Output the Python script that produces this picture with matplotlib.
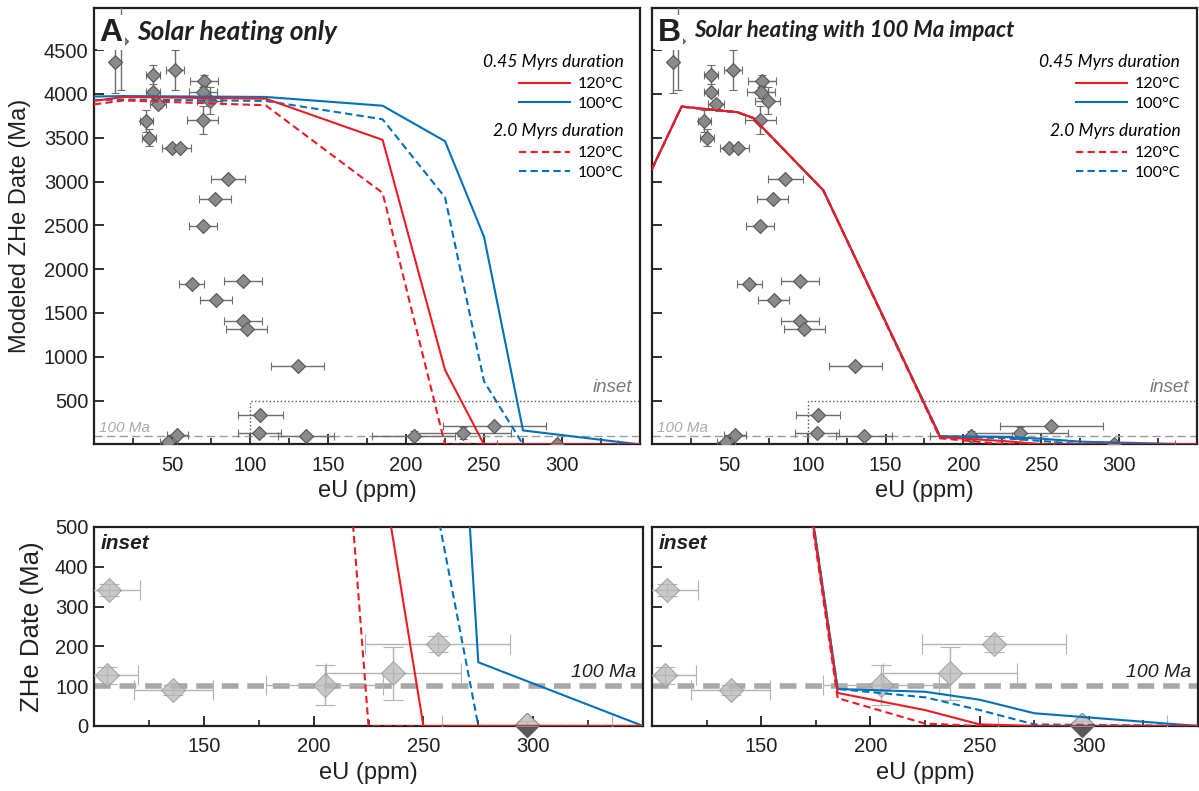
import matplotlib
matplotlib.use("Agg")
import matplotlib.pyplot as plt
from matplotlib.patches import Rectangle
from matplotlib.lines import Line2D
from matplotlib.legend import Legend

plt.rcParams['font.family'] = ['Liberation Sans', 'DejaVu Sans']

# measured single-grain data (eU in ppm, ZHe date in Ma)
eu = [13.3, 17, 37.9, 52, 37.9, 41.1, 70.7, 70, 74.3, 69.6, 33.6, 35.3, 49.7, 55,
      85.7, 77.5, 69.6, 95.3, 62.6, 78.2, 95.3, 97.9, 130.6,
      106.7, 106, 53.5, 47.5, 136, 205, 236.3, 256.5, 297]
eu_err = [1, 1, 4.5, 6, 4.7, 5, 8.9, 9, 8, 10, 4.3, 4.5, 6, 7,
          11, 10, 9, 12.2, 7.8, 10, 12.2, 13, 17,
          14.3, 14, 7, 5.5, 18, 26.5, 30.7, 33, 38.7]
zhe_date = [4359, 4600, 4219, 4272, 4017, 3885, 4151, 4017, 3923, 3703, 3687, 3498, 3384, 3384,
            3031, 2795, 2491, 1865, 1828, 1653, 1406, 1312, 897,
            341, 127, 110, 25, 91, 102, 132, 205, 2]
date_err = [345, 560, 109, 229, 40, 45, 65, 60, 156, 156, 124, 96, 25, 25,
            30, 30, 30, 30, 30, 30, 30, 30, 30,
            15, 21, 12, 10, 12, 50, 66, 20, 10]

# modeled dates, panel A (solar heating only)
eu_grid_a = [0, 19, 110, 185, 225, 250, 275, 350]
a_045_120 = [3920, 3965, 3945, 3475, 850, 0, 0, 0]
a_045_100 = [3970, 3975, 3965, 3865, 3460, 2370, 160, 0]
a_20_120 = [3880, 3925, 3870, 2870, 0, 0, 0, 0]
a_20_100 = [3930, 3935, 3920, 3710, 2820, 720, 0, 0]

# modeled dates, panel B (solar heating with 100 Ma impact)
eu_grid_b = [0, 19, 55, 65, 110, 185, 225, 250, 275, 350]
b_045_120 = [3145, 3855, 3790, 3725, 2900, 83, 40, 4, 0, 0]
b_045_100 = [3145, 3855, 3790, 3725, 2900, 93, 86, 66, 32, 0]
b_20_120 = [3145, 3855, 3790, 3725, 2900, 70, 6, 0, 0, 0]
b_20_100 = [3145, 3855, 3790, 3725, 2900, 93, 72, 40, 4, 0]

impact_age = 100
main_xlim = (0, 350)
main_ylim = (0, 4980)
inset_xlim = (100, 350)
inset_ylim = (0, 500)

RED = '#ed1c24'
BLUE = '#0072bc'
DARK = '#231f20'
TXT = '#231f20'
TITLE_FONT = ['Lato', 'DejaVu Sans']

fig = plt.figure(figsize=(11.99, 7.91), dpi=100)
axA = fig.add_axes([0.0784, 0.4381, 0.4554, 0.5518])
axB = fig.add_axes([0.5438, 0.4381, 0.4545, 0.5518])
axAi = fig.add_axes([0.0784, 0.0822, 0.4579, 0.2516])
axBi = fig.add_axes([0.5438, 0.0822, 0.4554, 0.2516])


def draw_models(ax, grid, s120, s100, d120, d100):
    ax.plot(grid, s100, color=BLUE, lw=1.5, zorder=4)
    ax.plot(grid, d100, color=BLUE, lw=1.5, dashes=(3.5, 2), zorder=4)
    ax.plot(grid, d120, color=RED, lw=1.5, dashes=(3.5, 2), zorder=5)
    ax.plot(grid, s120, color=RED, lw=1.5, zorder=5)


def style(ax, xt, xminor, yt, ylabels=True):
    for sp in ax.spines.values():
        sp.set_linewidth(1.6)
        sp.set_color(DARK)
    ax.set_xticks(xt)
    ax.set_xticks(xminor, minor=True)
    ax.set_yticks(yt)
    ax.tick_params(direction='in', length=7, width=1.3, labelsize=14.5,
                   colors=DARK, labelcolor=TXT, pad=4)
    ax.tick_params(axis='x', pad=8)
    ax.tick_params(which='minor', direction='in', length=4, width=1.2, colors=DARK)
    if not ylabels:
        ax.tick_params(labelleft=False)
    ax.set_xlabel('eU (ppm)', fontsize=17, color=TXT, labelpad=4)


for ax, letter, title, tsize, models in [
        (axA, 'A', 'Solar heating only', 19,
         (eu_grid_a, a_045_120, a_045_100, a_20_120, a_20_100)),
        (axB, 'B', 'Solar heating with 100 Ma impact', 16,
         (eu_grid_b, b_045_120, b_045_100, b_20_120, b_20_100))]:
    ax.errorbar(eu, zhe_date, xerr=eu_err, yerr=date_err, fmt='D', ms=7.5,
                mfc='#8a8a8a', mec='#555555', mew=0.8, ecolor='#6e6e6e',
                elinewidth=1, capsize=3, capthick=1, zorder=3)
    draw_models(ax, *models)
    ax.axhline(impact_age, color='#9a9a9a', lw=1, dashes=(6, 3), zorder=2)
    ax.add_patch(Rectangle((inset_xlim[0], inset_ylim[0]),
                           inset_xlim[1] - inset_xlim[0], inset_ylim[1] - inset_ylim[0],
                           fill=False, ec='#555555', lw=1, ls=':', zorder=2))
    ax.text(3, impact_age + 40, '100 Ma', fontsize=11, style='italic', color='#ababab')
    ax.text(0.985, (inset_ylim[1] + 50) / main_ylim[1], 'inset', transform=ax.transAxes,
            ha='right', va='bottom', fontsize=13.5, style='italic', color='#7a7a7a')
    ax.text(0.01, 0.978, letter, transform=ax.transAxes, ha='left', va='top',
            fontsize=23, fontweight='bold', color=TXT, zorder=10,
            bbox=dict(fc='white', ec='none', pad=2))
    ax.text(0.078, 0.972, title, transform=ax.transAxes, ha='left', va='top',
            fontsize=tsize, fontweight='bold', style='italic', color=TXT, zorder=10,
            family=TITLE_FONT, bbox=dict(fc='white', ec='none', pad=3))
    ax.set_xlim(*main_xlim)
    ax.set_ylim(*main_ylim)
    style(ax, [50, 100, 150, 200, 250, 300], list(range(25, 350, 50)),
          list(range(500, 4501, 500)), ylabels=(ax is axA))

    # legend blocks
    h1 = [Line2D([], [], color=RED, lw=1.5), Line2D([], [], color=BLUE, lw=1.5)]
    h2 = [Line2D([], [], color=RED, lw=1.5, dashes=(3.5, 2)),
          Line2D([], [], color=BLUE, lw=1.5, dashes=(3.5, 2))]
    for handles, head, ypos in [(h1, '0.45 Myrs duration', 0.92),
                                (h2, '2.0 Myrs duration', 0.762)]:
        leg = Legend(ax, handles, ['120°C', '100°C'], title=head, loc='upper right',
                     bbox_to_anchor=(0.99, ypos), frameon=False, alignment='right',
                     handlelength=3.2, handletextpad=0.5,
                     labelspacing=0.35, borderpad=0.2,
                     prop={'family': TITLE_FONT, 'size': 11.5},
                     title_fontproperties={'family': TITLE_FONT, 'size': 12.5,
                                           'style': 'italic'})
        leg._legend_box.sep = 5
        ax.add_artist(leg)

axA.set_ylabel('Modeled ZHe Date (Ma)', fontsize=17, color=TXT, labelpad=9)

for ax, models in [(axAi, (eu_grid_a, a_045_120, a_045_100, a_20_120, a_20_100)),
                   (axBi, (eu_grid_b, b_045_120, b_045_100, b_20_120, b_20_100))]:
    ax.axhline(impact_age, color='#a8a8a8', lw=4, dashes=(3, 1.6), zorder=2)
    low = [i for i, d in enumerate(zhe_date) if d < 10]
    ax.plot([eu[i] for i in low], [zhe_date[i] for i in low], 'D', ms=12,
            mfc='#595959', mec='#595959', clip_on=False, zorder=1)
    ax.plot([eu[i] for i in low], [zhe_date[i] for i in low], 'D', ms=12,
            mfc='white', mec='none', zorder=2.5)
    ax.errorbar(eu, zhe_date, xerr=eu_err, yerr=date_err, fmt='D', ms=12,
                mfc=(0.72, 0.72, 0.72, 0.75), mec=(0.6, 0.6, 0.6, 0.8), mew=0.8,
                ecolor='#b3b3b3', elinewidth=1, capsize=7, capthick=1, zorder=3)
    draw_models(ax, *models)
    ax.text(0.012, 0.965, 'inset', transform=ax.transAxes, ha='left', va='top',
            fontsize=15, fontweight='bold', style='italic', color=TXT)
    ax.text(0.988, impact_age + 12, '100 Ma', transform=ax.get_yaxis_transform(),
            ha='right', va='bottom', fontsize=14, style='italic', color=TXT)
    ax.set_xlim(*inset_xlim)
    ax.set_ylim(*inset_ylim)
    style(ax, [150, 200, 250, 300], list(range(125, 350, 50)),
          list(range(0, 501, 100)), ylabels=(ax is axAi))

axAi.set_ylabel('ZHe Date (Ma)', fontsize=18.5, color=TXT, labelpad=8)

fig.savefig('out.png', dpi=100)
